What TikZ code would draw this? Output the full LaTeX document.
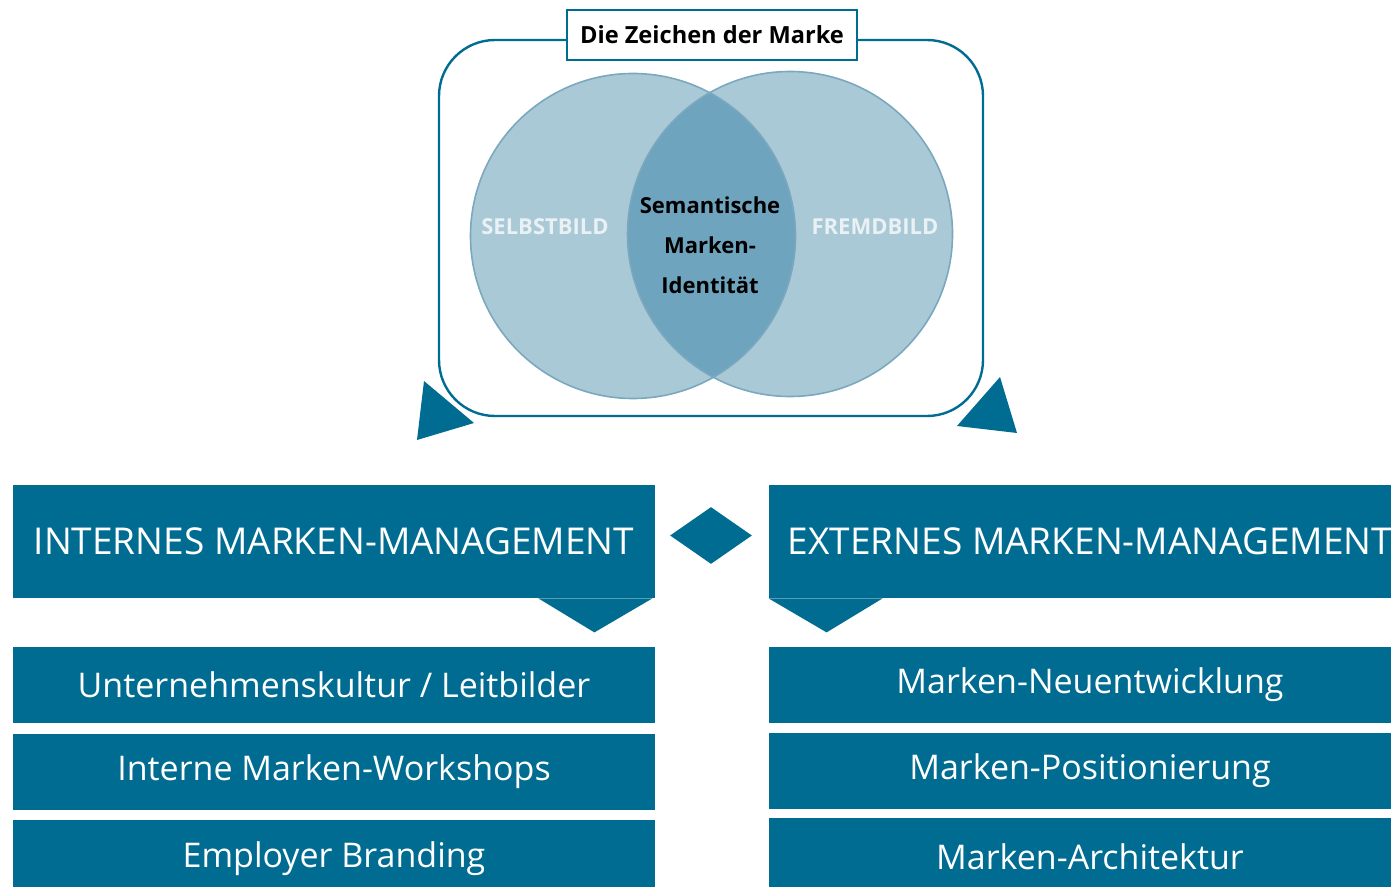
\documentclass[tikz,border=0pt]{standalone}
\usepackage{fontspec}
\setmainfont{Open Sans}
\usetikzlibrary{shapes.geometric, positioning, calc}

\definecolor{markblue}{RGB}{0,108,145}
\definecolor{venn}{RGB}{169,201,214}
\definecolor{vennmid}{RGB}{111,164,191}
\definecolor{vennline}{RGB}{122,168,190}
\definecolor{vennlabel}{RGB}{234,241,245}

\tikzset{
  headbox/.style={fill=markblue,text=white,inner sep=0pt,minimum width=321pt,minimum height=56.5pt,font=\fontsize{18.5}{20}\selectfont},
  itembox/.style={fill=markblue,text=white,inner sep=0pt,minimum width=321pt,minimum height=38pt,font=\fontsize{17}{19}\selectfont},
  venntext/.style={font=\bfseries\fontsize{11}{20}\selectfont,align=center},
}

\begin{document}
\begin{tikzpicture}[x=0.5pt,y=-0.5pt]
    \useasboundingbox (0,0) rectangle (1391,887);

    % Venn
    \coordinate (self) at (633,236);
    \coordinate (fremd) at (790,234);
    \fill[venn] (self) circle[radius=81.25pt];
    \fill[venn] (fremd) circle[radius=81.25pt];
    \begin{scope}
      \clip (self) circle[radius=81.25pt];
      \fill[vennmid] (fremd) circle[radius=81.25pt];
    \end{scope}
    \draw[vennline,line width=0.8pt] (self) circle[radius=81.25pt] (fremd) circle[radius=81.25pt];

    \node[venntext,text=vennlabel] (selbst) at (545,227) {SELBSTBILD};
    \node[venntext,text=vennlabel] (fremdbild) at (875,227) {FREMDBILD};
    \node[venntext] (identity) at (710,245) {Semantische\\Marken-\\Identität};

    \draw[markblue,line width=1.2pt,rounded corners=28pt] (439,40) rectangle (983,416);
    \node[draw=markblue,fill=white,line width=1.1pt,inner sep=0pt,minimum width=145pt,minimum height=25pt,
      font=\bfseries\fontsize{11.8}{14}\selectfont] (zeichen) at (712,35) {Die Zeichen der Marke};

    \fill[markblue] (424,381) -- (417,440) -- (474,423) -- cycle;
    \fill[markblue] (1000,377) -- (1017,433) -- (957,426) -- cycle;

    % management
    \node[headbox] (ihead) at (334,541.5) {INTERNES MARKEN-MANAGEMENT};
    \node[headbox] (ehead) at (1090,541.5) {EXTERNES MARKEN-MANAGEMENT};
    \fill[markblue] ($(ihead.south east)+(-117,0)$) -- ($(ihead.south east)+(-61,34)$) -- ($(ihead.south east)+(-3,0)$) -- cycle;
    \fill[markblue] (ehead.south west) -- ($(ehead.south west)+(58,34)$) -- ($(ehead.south west)+(114,0)$) -- cycle;
    \node[diamond,fill=markblue,inner sep=0pt,aspect=1.44,minimum width=41pt,minimum height=28.5pt] (link) at (711,535.5) {};

    \node[itembox,below=24pt of ihead] (kultur) {Unternehmenskultur / Leitbilder};
    \node[itembox,below=5pt of kultur] (workshops) {Interne Marken-Workshops};
    \node[itembox,below=5pt of workshops] (employer) {Employer Branding};

    \node[itembox,below=24pt of ehead] (neu) {Marken-Neuentwicklung};
    \node[itembox,below=4.5pt of neu] (position) {Marken-Positionierung};
    \node[itembox,below=4.5pt of position] (architektur) {Marken-Architektur};
\end{tikzpicture}
\end{document}
